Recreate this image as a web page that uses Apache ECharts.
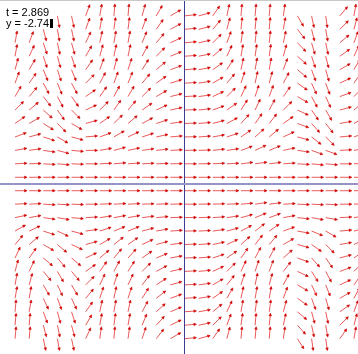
<!DOCTYPE html>
<html lang="en" style="height: 100%">
<head>
  <meta charset="utf-8">
</head>
<body style="height: 100%; margin: 0; background: #fff">
  <div id="container" style="width: 358px; height: 354px"></div>

  <script type="text/javascript" src="https://fastly.jsdelivr.net/npm/echarts@6/dist/echarts.min.js"></script>
  <script type="text/javascript">
    // grid of arrow tails: columns in t, rows in y (top to bottom)
    var tCols = [-12, -11, -10, -9, -8, -7, -6, -5, -4, -3, -2, -1, 0, 1, 2, 3, 4, 5, 6, 7, 8, 9, 10, 11, 12];
    var yRows = [12.5, 11.5, 10.5, 9.5, 8.5, 7.5, 6.5, 5.5, 4.5, 3.5, 2.5, 1.5, 0.5,
                 -0.5, -1.5, -2.5, -3.5, -4.5, -5.5, -6.5, -7.5, -8.5, -9.5, -10.5, -11.5];

    // arrow angle in degrees (screen), one list per column, rows top to bottom
    var angleCols = [
      [85, 85, 80, 80, 75, 70, 60, 45, 35, 20, 10, 3, 0,   0, 3, 12, 30, 50, 65, 75, 80, 80, 85, 85, 85],
      [75, 72, 70, 65, 60, 55, 50, 40, 30, 15, 8, 2, 0,   0, 3, 10, 25, 40, 55, 65, 75, 80, 80, 85, 85],
      [-78, -75, -72, -72, -68, -62, -52, -42, -32, -18, -8, -3, 0,   0, -3, -8, -18, -30, -40, -50, -60, -65, -70, -75, -78],
      [-80, -80, -78, -75, -72, -68, -62, -55, -45, -30, -15, -5, 0,   0, -3, -10, -25, -40, -50, -60, -65, -70, -75, -78, -80],
      [-78, -78, -75, -72, -68, -62, -55, -45, -30, -15, -5, -2, 0,   0, -2, -5, -15, -25, -40, -50, -60, -65, -72, -75, -78],
      [70, 70, 65, 60, 55, 45, 35, 25, 15, 5, 0, 0, 0,   0, 0, 3, 8, 15, 25, 35, 45, 50, 55, 60, 65],
      [80, 80, 78, 75, 70, 62, 55, 45, 35, 20, 10, 3, 0,   0, 2, 8, 18, 30, 40, 55, 65, 72, 78, 80, 82],
      [85, 82, 80, 78, 75, 70, 62, 55, 45, 30, 15, 5, 0,   0, 3, 10, 22, 38, 50, 62, 72, 78, 80, 82, 85],
      [85, 83, 80, 78, 72, 68, 60, 50, 40, 25, 12, 4, 0,   0, 3, 10, 22, 35, 48, 58, 65, 72, 78, 80, 82],
      [75, 70, 68, 62, 58, 50, 45, 35, 28, 18, 8, 3, 0,   0, 2, 7, 15, 25, 35, 45, 52, 58, 62, 68, 72],
      [60, 55, 50, 45, 40, 35, 30, 25, 18, 12, 6, 2, 0,   0, 2, 5, 10, 15, 22, 28, 33, 38, 42, 48, 52],
      [30, 28, 25, 22, 20, 17, 14, 12, 8, 5, 3, 1, 0,   0, 1, 2, 4, 7, 10, 13, 16, 20, 23, 26, 30],
      [6, 5, 5, 4, 4, 3, 3, 2, 2, 1, 1, 0, 0,   0, 0, 1, 1, 2, 2, 3, 3, 4, 4, 5, 5],
      [15, 14, 12, 11, 10, 9, 8, 6, 5, 4, 2, 1, 0,   0, 1, 2, 3, 4, 5, 6, 8, 9, 10, 12, 15],
      [55, 50, 45, 40, 35, 30, 25, 20, 15, 10, 6, 3, 0,   0, 2, 4, 8, 12, 18, 25, 30, 35, 40, 45, 55],
      [78, 75, 70, 65, 58, 50, 45, 35, 28, 18, 8, 3, 0,   0, 2, 8, 15, 25, 35, 45, 52, 60, 65, 70, 75],
      [85, 84, 82, 80, 78, 72, 65, 58, 48, 35, 20, 7, 0,   0, 5, 15, 28, 42, 55, 65, 72, 78, 80, 82, 85],
      [85, 85, 84, 82, 80, 78, 72, 65, 55, 42, 25, 8, 0,   0, 8, 22, 38, 52, 62, 72, 78, 80, 82, 85, 85],
      [85, 85, 84, 82, 80, 75, 70, 62, 52, 40, 22, 7, 0,   0, 7, 20, 35, 50, 62, 70, 75, 80, 82, 84, 85],
      [82, 80, 78, 75, 70, 62, 55, 45, 35, 25, 12, 4, 0,   0, 3, 10, 20, 30, 42, 52, 62, 70, 75, 78, 82],
      [-60, -52, -46, -42, -40, -35, -30, -25, -20, -15, -8, -3, 0,   0, -2, -6, -10, -15, -20, -25, -30, -35, -40, -48, -58],
      [-78, -76, -74, -72, -70, -66, -62, -56, -48, -38, -20, -6, 0,   0, -3, -10, -22, -35, -48, -58, -65, -70, -75, -78, -82],
      [-82, -80, -78, -76, -74, -70, -66, -60, -52, -45, -20, -5, 0,   0, -3, -10, -30, -45, -55, -62, -68, -74, -78, -80, -82],
      [50, 45, 40, 35, 30, 25, 20, 15, 10, 5, 3, 0, 0,   0, 0, 3, 5, 10, 15, 20, 25, 30, 35, 45, 55],
      [80, 75, 70, 65, 60, 55, 45, 40, 30, 20, 10, 3, 0,   0, 2, 8, 15, 25, 35, 45, 55, 62, 70, 75, 80]
    ];

    var readout = ['t = 2.869', 'y = -2.74'];

    var points = [];
    for (var c = 0; c < tCols.length; c++) {
      for (var r = 0; r < yRows.length; r++) {
        points.push([tCols[c], yRows[r], angleCols[c][r]]);
      }
    }

    var ARROW = 12;
    var HEAD = 2.6;

    function renderArrow(params, api) {
      var p = api.coord([api.value(0), api.value(1)]);
      var a = api.value(2) * Math.PI / 180;
      var ca = Math.cos(a), sa = -Math.sin(a);
      var ex = p[0] + ARROW * ca;
      var ey = p[1] + ARROW * sa;
      // small filled tip
      var bx = ex - HEAD * ca, by = ey - HEAD * sa;
      var w = 1.2;
      return {
        type: 'group',
        children: [
          {
            type: 'line',
            shape: { x1: p[0], y1: p[1], x2: bx, y2: by },
            style: { stroke: '#ea5a5a', lineWidth: 1 }
          },
          {
            type: 'polygon',
            shape: {
              points: [
                [ex, ey],
                [bx - w * sa, by + w * ca],
                [bx + w * sa, by - w * ca]
              ]
            },
            style: { fill: '#d00000', stroke: '#d00000', lineWidth: 0.6 }
          }
        ]
      };
    }

    var dom = document.getElementById('container');
    var myChart = echarts.init(dom, null, { renderer: 'canvas' });

    var option = {
      animation: false,
      backgroundColor: '#ffffff',
      grid: { left: 0, right: 0, top: 0, bottom: 0 },
      xAxis: {
        type: 'value',
        min: -184.5 / 14.12,
        max: 173.5 / 14.12,
        z: 5,
        axisLine: { onZero: true, lineStyle: { color: '#9494c8', width: 2 } },
        axisTick: { show: false },
        axisLabel: { show: false },
        splitLine: { show: false }
      },
      yAxis: {
        type: 'value',
        min: -170 / 13.45,
        max: 184 / 13.45,
        z: 5,
        axisLine: { onZero: true, lineStyle: { color: '#3c3c90', width: 1 } },
        axisTick: { show: false },
        axisLabel: { show: false },
        splitLine: { show: false }
      },
      series: [
        {
          type: 'custom',
          renderItem: renderArrow,
          data: points,
          z: 2,
          silent: true
        }
      ],
      graphic: [
        { type: 'line', shape: { x1: 0, y1: 0.5, x2: 358, y2: 0.5 }, style: { stroke: '#c8c8c8', lineWidth: 1 }, z: 10 },
        { type: 'rect', shape: { x: 0, y: 3, width: 53, height: 26 }, style: { fill: '#ffffff' }, z: 10 },
        { type: 'text', left: 6, top: 7, style: { text: readout[0], font: '11px "Liberation Sans", sans-serif', fill: '#000' }, z: 11 },
        { type: 'text', left: 6, top: 18, style: { text: readout[1], font: '11px "Liberation Sans", sans-serif', fill: '#000' }, z: 11 },
        { type: 'rect', shape: { x: 50, y: 19, width: 3, height: 9 }, style: { fill: '#000' }, z: 11 }
      ]
    };

    myChart.setOption(option);
    window.addEventListener('resize', myChart.resize);
  </script>
</body>
</html>
